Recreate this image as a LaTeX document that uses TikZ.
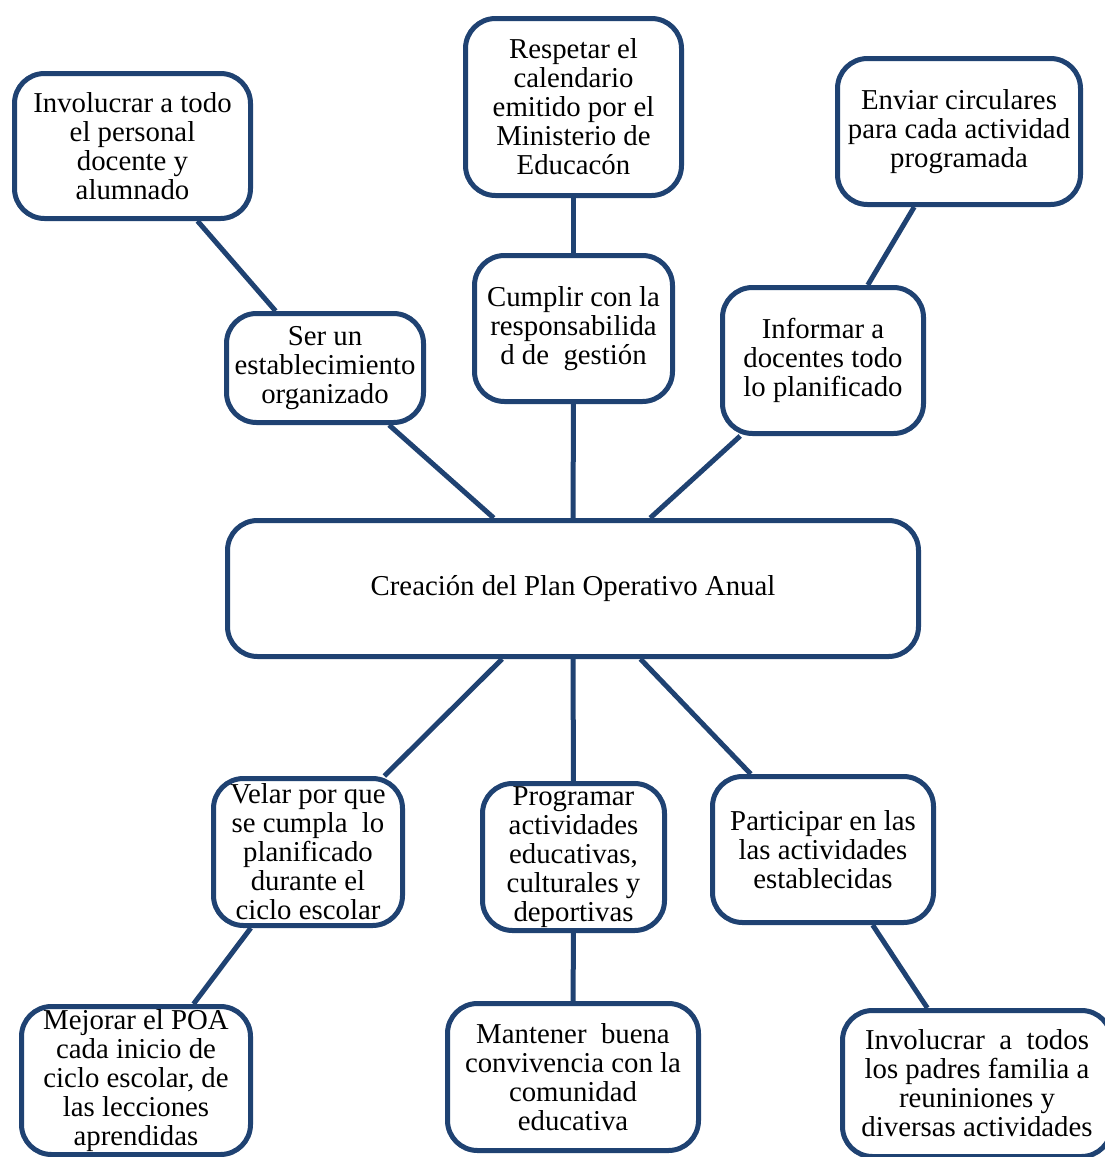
\documentclass[tikz,border=0pt]{standalone}
\usepackage{fontspec}
\setmainfont{Liberation Serif}
\definecolor{navy}{RGB}{31,66,114}
\begin{document}
\begin{tikzpicture}[x=0.5pt,y=-0.5pt,
		caja/.style={draw=navy, line width=2.5pt, rounded corners=15pt, fill=white, align=center, inner sep=0pt, font=\fontsize{14.4}{14.5}\selectfont},
		enlace/.style={draw=navy, line width=2.5pt}]
		\useasboundingbox (0,0) rectangle (1104,1157);
		\node[caja, minimum width=118pt, minimum height=72.5pt] (personal) at (132.5,146) {Involucrar a todo\\el personal\\docente y\\alumnado};
		\node[caja, minimum width=108pt, minimum height=88.5pt] (calendario) at (573.5,107) {Respetar el\\calendario\\emitido por el\\Ministerio de\\Educacón};
		\node[caja, minimum width=121.5pt, minimum height=73pt] (circulares) at (959,131.5) {Enviar circulares\\para cada actividad\\programada};
		\node[caja, minimum width=98.5pt, minimum height=54.5pt] (organizado) at (325,368) {Ser un\\establecimiento\\organizado};
		\node[caja, minimum width=99pt, minimum height=73pt] (gestion) at (573.5,328.5) {Cumplir con la\\responsabilida\\d de \ gestión};
		\node[caja, minimum width=100.5pt, minimum height=73pt] (informar) at (823,360.5) {Informar a\\docentes todo\\lo planificado};
		\node[caja, minimum width=345.5pt, minimum height=68pt] (poa) at (573,588.5) {Creación del Plan Operativo Anual};
		\node[caja, minimum width=94.5pt, minimum height=73.5pt] (velar) at (308,852) {Velar por que\\se cumpla \ lo\\planificado\\durante el\\ciclo escolar};
		\node[caja, minimum width=91pt, minimum height=73.5pt] (programar) at (573.5,857) {Programar\\actividades\\educativas,\\culturales y\\deportivas};
		\node[caja, minimum width=110.5pt, minimum height=73pt] (participar) at (823,849.5) {Participar en las\\las actividades\\establecidas};
		\node[caja, minimum width=114.5pt, minimum height=74pt] (mejorar) at (136,1080.5) {Mejorar el POA\\cada inicio de\\ciclo escolar, de\\las lecciones\\aprendidas};
		\node[caja, minimum width=125.5pt, minimum height=73.5pt] (convivencia) at (573,1077) {Mantener \ buena\\convivencia con la\\comunidad\\educativa};
		\node[caja, minimum width=134.5pt, minimum height=73pt] (padres) at (977,1083.5) {Involucrar \ a \ todos\\los padres familia a\\reuniniones y\\diversas actividades};
		\draw[enlace] (personal) -- (organizado);
		\draw[enlace] (organizado) -- (poa);
		\draw[enlace] (calendario) -- (gestion);
		\draw[enlace] (gestion) -- (poa);
		\draw[enlace] (circulares) -- (informar);
		\draw[enlace] (informar) -- (poa);
		\draw[enlace] (poa) -- (velar);
		\draw[enlace] (poa) -- (programar);
		\draw[enlace] (poa) -- (participar);
		\draw[enlace] (velar) -- (mejorar);
		\draw[enlace] (programar) -- (convivencia);
		\draw[enlace] (participar) -- (padres);
	\end{tikzpicture}
\end{document}
